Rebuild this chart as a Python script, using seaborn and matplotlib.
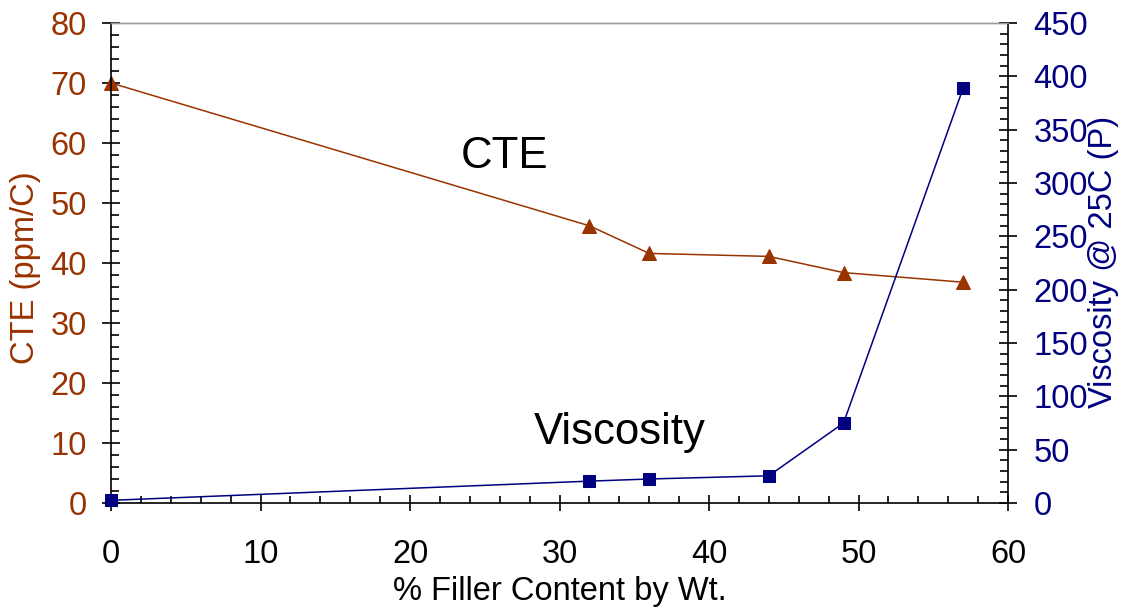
import matplotlib
matplotlib.use("Agg")
import matplotlib.pyplot as plt
import seaborn as sns
import pandas as pd
from matplotlib.ticker import MultipleLocator

filler = [0, 32, 36, 44, 49, 57]
cte = [70, 46.2, 41.6, 41.1, 38.4, 36.8]
viscosity = [2.5, 20.5, 22.5, 25.5, 75, 389]

cte_color = "#993300"
visc_color = "#000080"

sns.set_style("ticks")
plt.rcParams['font.family'] = ['Liberation Sans', 'DejaVu Sans']
plt.rcParams.update({"text.color": "black", "axes.labelcolor": "black",
                     "xtick.color": "black", "ytick.color": "black",
                     "axes.edgecolor": "black"})

fig = plt.figure(figsize=(11.26, 6.08), dpi=100)
ax = fig.add_axes([111/1126, 105/608, (1008-111)/1126, (503-23)/608])

df1 = pd.DataFrame({"x": filler, "y": cte})
df2 = pd.DataFrame({"x": filler, "y": viscosity})

sns.lineplot(data=df1, x="x", y="y", ax=ax, color=cte_color, marker="^",
             markersize=10, markeredgecolor=cte_color, linewidth=1.1, clip_on=False)
ax2 = ax.twinx()
sns.lineplot(data=df2, x="x", y="y", ax=ax2, color=visc_color, marker="s",
             markersize=8, markeredgecolor=visc_color, linewidth=1.1, clip_on=False)

ax.set_xlim(0, 60)
ax.set_ylim(0, 80)
ax2.set_ylim(0, 450)

ax.xaxis.set_major_locator(MultipleLocator(10))
ax.xaxis.set_minor_locator(MultipleLocator(2))
ax.yaxis.set_major_locator(MultipleLocator(10))
ax.yaxis.set_minor_locator(MultipleLocator(2))
ax2.yaxis.set_major_locator(MultipleLocator(50))
ax2.yaxis.set_minor_locator(MultipleLocator(10))

fs = 23.5
ax.tick_params(axis="y", which="major", direction="inout", length=13, width=1.2,
               labelsize=fs, labelcolor=cte_color, color="black", pad=11)
ax.tick_params(axis="y", which="minor", direction="in", length=6, width=1.2, color="black")
ax.tick_params(axis="x", which="major", direction="inout", length=12, width=1.2,
               labelsize=fs, labelcolor="black", color="black", pad=20)
ax.tick_params(axis="x", which="minor", direction="in", length=5, width=1.2, color="black")
ax2.tick_params(axis="y", which="major", direction="inout", length=13, width=1.2,
                labelsize=fs, labelcolor=visc_color, color="black", pad=12)
ax2.tick_params(axis="y", which="minor", direction="in", length=6, width=1.2, color="black")

for a in (ax, ax2):
    for s in ("left", "bottom", "right"):
        a.spines[s].set_color("black")
        a.spines[s].set_linewidth(1.2)
    a.spines["top"].set_color("#999999")
    a.spines["top"].set_linewidth(1.0)
    a.spines["right"].set_visible(True)
    a.spines["top"].set_visible(True)
ax.spines["right"].set_visible(False)
ax2.spines["left"].set_visible(False)
ax2.spines["bottom"].set_visible(False)

ax.set_xlabel("% Filler Content by Wt.", fontsize=fs, color="black")
ax.set_ylabel("CTE (ppm/C)", fontsize=fs, color=cte_color)
ax2.set_ylabel("Viscosity @ 25C (P)", fontsize=fs, color=visc_color)
ax.xaxis.set_label_coords(0.5, -0.185)
ax.yaxis.set_label_coords(-0.095, 0.49)
ax2.yaxis.set_label_coords(1.106, 0.502)
ax.xaxis.label.set_va("center")
ax.yaxis.label.set_va("center")
ax2.yaxis.label.set_va("center")

ax.text(26.35, 57.8, "CTE", fontsize=31.5, color="black", ha="center", va="center")
ax.text(34.05, 11.7, "Viscosity", fontsize=31.5, color="black", ha="center", va="center")

fig.savefig("out.png", dpi=100)
